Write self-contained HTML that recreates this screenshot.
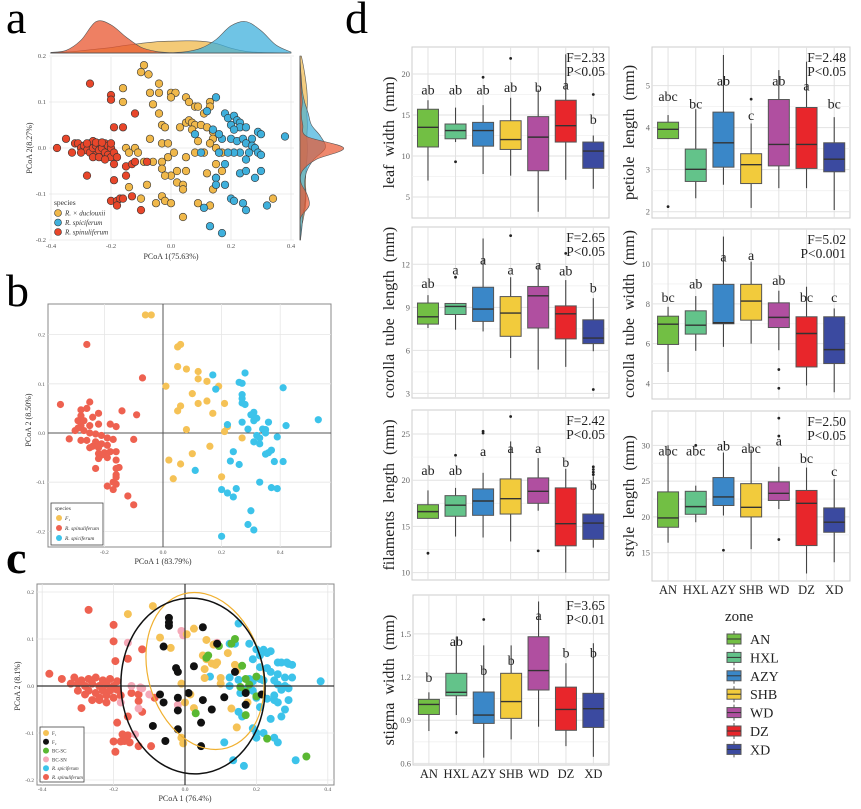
<!DOCTYPE html>
<html><head><meta charset="utf-8"><style>
html,body{margin:0;padding:0;background:#fff;width:861px;height:809px;overflow:hidden}
svg{position:absolute;left:0;top:0;font-family:"Liberation Serif",serif}
</style></head><body>
<svg id="fig" width="861" height="809" viewBox="0 0 861 809" xmlns="http://www.w3.org/2000/svg"></svg>
<script>
// ---------- DATA ----------
// Panel a
const aDuclouxii=[[-0.09,0.18],[-0.1,0.165],[-0.075,0.16],[-0.04,0.14],[-0.16,0.13],[-0.16,0.10],[-0.07,0.12],[-0.04,0.12],[0,0.12],[0.015,0.12],[0,0.11],[-0.06,0.095],[-0.04,0.075],[0.05,0.11],[0.06,0.1],[0.08,0.09],[0.09,0.09],[0.13,0.1],[0.13,0.09],[0.11,0.075],[-0.03,0.05],[-0.02,0.045],[0.03,0.045],[0.05,0.055],[0.06,0.06],[0.07,0.055],[0.08,0.05],[0.1,0.05],[0.12,0.045],[0.14,0.035],[0.07,0.04],[0.14,0.02],[0.13,0.01],[0.09,0.015],[0.15,0.0],[0.16,-0.01],[0.17,-0.01],[-0.07,0.02],[-0.03,0.01],[-0.01,0.01],[-0.15,0.0],[-0.14,-0.01],[-0.12,0.0],[-0.11,-0.01],[-0.09,-0.03],[-0.06,-0.03],[-0.03,-0.03],[-0.01,-0.02],[0.01,-0.01],[0.05,-0.02],[0.08,-0.01],[0.11,-0.01],[-0.03,-0.045],[0.05,-0.05],[0.0,-0.06],[0.15,-0.035],[0.12,-0.055],[0.15,-0.065],[0.02,-0.075],[0.04,-0.08],[0.04,-0.09],[-0.14,-0.085],[-0.08,-0.08],[0.14,-0.09],[-0.1,-0.11],[-0.03,-0.105],[-0.02,-0.115],[0.0,-0.12],[-0.05,-0.12],[0.04,-0.15],[0.09,-0.12],[0.13,-0.125],[0.34,-0.11],[0.17,-0.05],[-0.02,-0.06],[0.02,-0.05]];
const aSpiciferum=[[0.15,0.11],[0.12,0.08],[0.18,0.075],[0.19,0.065],[0.21,0.07],[0.22,0.06],[0.23,0.055],[0.2,0.05],[0.23,0.045],[0.25,0.045],[0.21,0.04],[0.29,0.035],[0.3,0.03],[0.38,0.025],[0.14,0.04],[0.08,0.03],[0.17,0.02],[0.2,0.02],[0.22,0.015],[0.24,0.02],[0.27,0.02],[0.25,0.01],[0.27,0.005],[0.28,0.0],[0.26,-0.01],[0.29,-0.01],[0.3,-0.015],[0.23,-0.01],[0.21,-0.01],[0.19,-0.01],[0.16,-0.01],[0.1,-0.01],[0.25,-0.025],[0.18,-0.035],[0.23,-0.055],[0.25,-0.05],[0.28,-0.065],[0.3,-0.05],[0.15,-0.065],[0.15,-0.08],[0.18,-0.08],[0.2,-0.11],[0.21,-0.115],[0.24,-0.12],[0.25,-0.135],[0.32,-0.125],[0.11,-0.13],[0.13,-0.17],[0.17,-0.185],[0.16,0.03]];
const aSpinuliferum=[[-0.27,0.14],[-0.2,0.115],[-0.2,0.105],[-0.12,0.075],[-0.16,0.045],[-0.19,0.045],[-0.38,0.0],[-0.35,0.02],[-0.32,0.01],[-0.31,0.01],[-0.3,0.0],[-0.29,0.005],[-0.28,-0.005],[-0.27,0.01],[-0.27,-0.01],[-0.26,0.0],[-0.26,0.015],[-0.25,0.005],[-0.25,-0.015],[-0.24,0.01],[-0.24,-0.005],[-0.23,0.0],[-0.23,-0.02],[-0.22,0.01],[-0.22,-0.01],[-0.21,0.005],[-0.21,-0.015],[-0.2,0.0],[-0.2,-0.02],[-0.19,-0.01],[-0.18,-0.02],[-0.28,0.01],[-0.26,-0.02],[-0.24,-0.02],[-0.22,-0.025],[-0.2,0.01],[-0.3,-0.01],[-0.33,-0.01],[-0.25,0.012],[-0.23,0.012],[-0.19,-0.035],[-0.15,-0.04],[-0.13,-0.035],[-0.12,-0.03],[-0.08,-0.03],[-0.28,-0.06],[-0.15,-0.06],[-0.19,-0.07],[-0.2,-0.115],[-0.18,-0.115],[-0.17,-0.11],[-0.16,-0.11],[-0.13,-0.105],[-0.1,-0.135],[-0.18,-0.125]];
const densX=[-0.4,-0.35,-0.3,-0.25,-0.2,-0.15,-0.1,-0.05,0,0.05,0.1,0.15,0.2,0.25,0.3,0.35,0.4];
const densTopRed=[0.02,0.08,0.4,0.98,0.88,0.5,0.18,0.05,0.01,0,0,0,0,0,0,0,0];
const densTopYellow=[0.01,0.03,0.07,0.12,0.17,0.24,0.3,0.35,0.37,0.38,0.37,0.3,0.15,0.05,0.02,0.01,0];
const densTopBlue=[0,0,0,0,0,0,0,0,0.01,0.04,0.15,0.42,0.85,0.98,0.7,0.25,0.03];
const densY=[-0.2,-0.175,-0.15,-0.125,-0.1,-0.075,-0.05,-0.025,0,0.025,0.05,0.075,0.1,0.125,0.15,0.175,0.2];
const densRightRed=[0,0.01,0.02,0.2,0.15,0.02,0.05,0.35,0.95,0.15,0.06,0.03,0.05,0.03,0.02,0.01,0];
const densRightBlue=[0.01,0.04,0.06,0.1,0.12,0.1,0.15,0.3,0.55,0.45,0.25,0.18,0.1,0.05,0.03,0.01,0];
const densRightYellow=[0.01,0.03,0.08,0.12,0.13,0.12,0.13,0.15,0.16,0.15,0.16,0.15,0.16,0.15,0.12,0.08,0.03];
// Panel b
const bF1=[[-0.06,0.24],[-0.04,0.24],[0.06,0.18],[0.05,0.175],[0.05,0.135],[0.08,0.13],[0.12,0.125],[0.12,0.11],[0.15,0.105],[0.01,0.095],[0.19,0.095],[0.1,0.08],[0.12,0.06],[0.15,0.065],[0.21,0.06],[0.06,0.055],[0.05,0.045],[0.17,0.04],[0.08,0.007],[0.22,0.013],[0.21,0.003],[0.27,-0.01],[0.16,-0.027],[0.1,-0.042],[0.02,-0.055],[0.06,-0.063],[0.035,-0.093],[0.2,-0.089]];
const bSpinuliferum=[[-0.35,0.058],[-0.26,0.18],[-0.07,0.112],[-0.14,0.045],[-0.09,0.037],[-0.25,0.063],[-0.26,0.05],[-0.28,0.047],[-0.22,0.04],[-0.24,0.032],[-0.28,0.035],[-0.29,0.025],[-0.27,0.025],[-0.28,0.015],[-0.25,0.015],[-0.22,0.018],[-0.18,0.018],[-0.16,0.013],[-0.29,0.01],[-0.27,0.005],[-0.3,0.005],[-0.25,0.0],[-0.23,-0.002],[-0.21,-0.005],[-0.19,-0.01],[-0.32,-0.012],[-0.28,-0.015],[-0.26,-0.015],[-0.23,-0.018],[-0.21,-0.022],[-0.24,-0.027],[-0.22,-0.03],[-0.19,-0.025],[-0.17,-0.013],[-0.1,-0.013],[-0.25,-0.03],[-0.22,-0.042],[-0.2,-0.04],[-0.18,-0.038],[-0.19,-0.05],[-0.21,-0.045],[-0.22,-0.052],[-0.16,-0.038],[-0.16,-0.055],[-0.23,-0.072],[-0.16,-0.072],[-0.15,-0.07],[-0.16,-0.085],[-0.16,-0.09],[-0.17,-0.1],[-0.16,-0.104],[-0.19,-0.108],[-0.17,-0.115],[-0.12,-0.128],[-0.1,-0.146]];
const bSpiciferum=[[0.17,0.118],[0.28,0.122],[0.26,0.103],[0.27,0.101],[0.18,0.089],[0.41,0.092],[0.27,0.078],[0.27,0.07],[0.27,0.061],[0.28,0.058],[0.31,0.042],[0.31,0.033],[0.3,0.037],[0.32,0.03],[0.31,0.025],[0.27,0.022],[0.36,0.022],[0.22,0.017],[0.42,0.015],[0.53,0.027],[0.29,0.008],[0.34,0.008],[0.35,0.007],[0.35,0.0],[0.32,-0.005],[0.33,-0.01],[0.39,-0.008],[0.31,-0.018],[0.33,-0.022],[0.36,-0.04],[0.37,-0.035],[0.35,-0.043],[0.24,-0.038],[0.23,-0.057],[0.26,-0.064],[0.38,-0.058],[0.41,-0.058],[0.11,-0.076],[0.33,-0.1],[0.2,-0.115],[0.22,-0.122],[0.24,-0.13],[0.25,-0.113],[0.37,-0.111],[0.39,-0.113],[0.3,-0.158],[0.29,-0.186],[0.31,-0.197],[0.2,-0.21]];
// Panel c
const cSpinuliferum=[[-0.27,0.162],[-0.2,0.13],[-0.2,0.095],[-0.12,0.078],[-0.16,0.058],[-0.195,0.053],[-0.38,0.026],[-0.345,0.015],[-0.31,0.018],[-0.3,0.005],[-0.29,0.012],[-0.28,0.0],[-0.27,0.015],[-0.27,-0.01],[-0.26,0.005],[-0.25,0.018],[-0.25,-0.015],[-0.24,0.0],[-0.24,-0.025],[-0.23,0.012],[-0.23,-0.01],[-0.22,0.003],[-0.22,-0.02],[-0.21,0.015],[-0.21,-0.01],[-0.2,0.0],[-0.2,-0.025],[-0.19,-0.008],[-0.19,0.01],[-0.18,-0.02],[-0.28,-0.018],[-0.26,-0.03],[-0.24,-0.03],[-0.22,-0.035],[-0.3,-0.01],[-0.32,0.005],[-0.15,-0.015],[-0.13,-0.018],[-0.13,-0.032],[-0.12,-0.055],[-0.085,-0.025],[-0.29,-0.047],[-0.16,-0.065],[-0.19,-0.078],[-0.2,-0.118],[-0.18,-0.118],[-0.17,-0.117],[-0.16,-0.105],[-0.155,-0.12],[-0.13,-0.128],[-0.095,-0.128],[-0.195,-0.14],[-0.175,-0.103]];
const cSpiciferum=[[0.15,0.133],[0.125,0.09],[0.14,0.09],[0.18,0.09],[0.2,0.078],[0.22,0.077],[0.23,0.07],[0.24,0.074],[0.21,0.065],[0.19,0.057],[0.26,0.05],[0.27,0.05],[0.29,0.047],[0.21,0.04],[0.23,0.038],[0.24,0.03],[0.26,0.025],[0.28,0.018],[0.3,0.018],[0.25,0.012],[0.26,0.003],[0.28,0.0],[0.29,-0.005],[0.27,-0.008],[0.22,0.012],[0.21,0.015],[0.19,0.01],[0.18,0.015],[0.175,-0.005],[0.15,0.013],[0.125,0.018],[0.125,0.0],[0.07,0.02],[0.155,-0.015],[0.17,-0.04],[0.19,-0.01],[0.2,-0.025],[0.23,-0.027],[0.25,-0.02],[0.25,-0.03],[0.26,-0.035],[0.21,-0.045],[0.15,-0.055],[0.16,-0.065],[0.27,-0.065],[0.28,-0.05],[0.29,-0.03],[0.24,-0.07],[0.19,-0.09],[0.2,-0.1],[0.22,-0.1],[0.2,-0.11],[0.25,-0.11],[0.26,-0.12],[0.11,-0.12],[0.135,-0.158],[0.165,-0.17],[0.31,-0.158],[0.38,0.01],[0.285,0.05],[0.3,0.045]];
const cBCSN=[[-0.01,0.117],[-0.005,0.108],[0.085,0.09],[-0.16,0.092],[-0.15,0.0],[-0.125,-0.003],[-0.12,-0.005],[-0.1,-0.018],[-0.18,-0.035],[-0.13,-0.048],[-0.14,-0.103],[-0.02,-0.04],[0.09,0.092]];
const cF1=[[-0.16,0.153],[-0.09,0.17],[-0.07,0.103],[-0.04,0.081],[0.005,0.11],[0.025,0.122],[0.06,0.098],[0.08,0.088],[0.12,0.07],[0.05,0.065],[0.06,0.057],[0.075,0.048],[0.085,0.045],[0.09,0.05],[0.145,0.033],[0.055,0.036],[0.055,0.017],[0.1,0.017],[0.1,0.005],[-0.01,0.005],[0.015,-0.018],[0.0,-0.035],[0.025,-0.047],[0.13,-0.048],[0.145,-0.088],[0.175,-0.035],[-0.01,-0.11],[-0.005,-0.122],[0.14,0.045]];
const cBCSC=[[0.14,0.1],[0.13,0.09],[0.095,0.085],[0.06,0.06],[0.065,0.065],[0.16,0.043],[0.17,0.015],[0.155,-0.002],[0.18,0.003],[0.17,-0.012],[0.2,-0.022],[0.03,-0.058],[0.17,-0.062],[0.23,-0.112],[0.34,-0.15],[0.2,0.02]];
const cF2=[[-0.045,0.145],[-0.045,0.135],[-0.045,0.128],[0.05,0.125],[-0.06,0.084],[-0.025,0.038],[-0.02,0.03],[0.025,0.042],[0.09,0.09],[0.14,0.03],[-0.07,-0.018],[-0.06,-0.035],[-0.02,-0.025],[0.01,-0.015],[0.05,-0.03],[0.11,-0.024],[0.17,-0.015],[0.215,-0.018],[-0.02,-0.052],[0.075,-0.05],[0.045,-0.078],[-0.09,-0.085],[-0.02,-0.092],[-0.055,-0.117],[0.045,-0.128],[0.17,-0.04]];
// Panel d  (per zone: [min, q1, median, q3, max])
const zones=["AN","HXL","AZY","SHB","WD","DZ","XD"];
const leafWidthBoxes=[[7.0,11.1,13.5,15.7,16.8],[11.7,12.1,13.1,13.9,15.9],[7.8,11.2,13.1,14.1,16.2],[7.6,10.8,12.0,14.3,17.1],[3.2,8.2,12.3,14.8,18.1],[7.1,11.7,13.7,16.8,22.4],[6.0,8.5,10.6,11.7,12.5]];
const leafWidthOutliers=[[],[9.3],[19.6],[21.9],[],[],[17.5]];
const leafWidthLetters=["ab","ab","ab","ab","b","a","b"];
const leafWidthLetterY=[18.1,18.1,18.1,18.4,18.4,18.7,14.5];
const petioleBoxes=[[3.74,3.74,3.96,4.13,4.30],[2.32,2.72,3.01,3.49,4.44],[2.64,3.06,3.64,4.37,5.73],[2.09,2.67,3.12,3.38,4.10],[2.56,3.09,3.60,4.67,5.37],[2.56,3.03,3.60,4.48,5.57],[2.04,2.95,3.25,3.64,4.25]];
const petioleOutliers=[[2.12],[],[],[4.68],[],[],[]];
const petioleLetters=["abc","bc","ab","c","ab","a","bc"];
const petioleLetterY=[4.75,4.58,5.12,4.3,5.12,5.0,4.58];
const corollaLenBoxes=[[7.56,7.83,8.34,9.3,9.85],[7.44,8.5,9.06,9.27,9.3],[7.32,8.02,8.88,10.4,13.8],[5.47,6.98,8.6,9.75,11.1],[4.66,7.56,9.8,10.45,11.95],[4.85,6.8,8.55,9.1,10.9],[5.94,6.47,6.86,8.13,9.64]];
const corollaLenOutliers=[[],[11.1],[],[14.0],[],[12.76],[3.27]];
const corollaLenLetters=["ab","a","a","a","a","ab","b"];
const corollaLenLetterY=[10.7,11.65,12.35,11.65,12.0,11.56,10.4];
const corollaWidBoxes=[[4.58,5.96,6.98,7.38,7.85],[5.64,6.48,6.93,7.65,8.39],[5.84,7.0,7.05,8.98,11.38],[6.0,7.18,8.14,8.98,10.12],[5.67,6.81,7.32,8.05,8.66],[3.9,4.83,6.51,7.35,8.86],[3.56,5.0,5.7,7.35,7.77]];
const corollaWidOutliers=[[],[],[],[],[4.7,3.76],[],[]];
const corollaWidLetters=["bc","ab","a","a","ab","bc","c"];
const corollaWidLetterY=[8.35,9.03,10.37,10.45,9.2,8.35,8.35];
const filamentBoxes=[[15.87,15.87,16.6,17.35,18.9],[13.9,16.1,17.3,18.33,19.17],[13.8,16.2,17.75,19.06,20.8],[13.37,16.34,18.0,20.14,24.2],[16.7,17.5,18.8,20.25,22.4],[10.0,12.9,15.29,19.17,21.23],[12.7,13.6,15.36,16.34,20.43]];
const filamentOutliers=[[12.1],[22.7],[25.3,25.1],[26.9],[12.35],[],[21.45,21.16,20.87,20.6]];
const filamentLetters=["ab","ab","a","a","a","b","b"];
const filamentLetterY=[21.1,21.1,23.15,23.5,23.5,21.96,19.5];
const styleBoxes=[[16.4,18.56,19.86,23.5,30.0],[19.26,20.37,21.44,23.58,24.37],[20.2,21.6,22.8,25.5,29.0],[15.5,20.0,21.35,24.65,29.4],[21.1,22.3,23.3,24.9,27.0],[12.1,16.0,21.9,23.7,26.9],[13.67,17.86,19.26,21.26,25.3]];
const styleOutliers=[[],[30.0],[15.35],[],[16.84,31.3,33.8],[],[]];
const styleLetters=["abc","abc","ab","abc","a","bc","c"];
const styleLetterY=[29.3,29.3,30.0,29.6,30.65,28.2,26.4];
const stigmaBoxes=[[0.825,0.94,1.01,1.045,1.094],[0.936,1.07,1.094,1.226,1.48],[0.64,0.878,0.936,1.096,1.42],[0.767,0.913,1.03,1.226,1.42],[0.855,1.11,1.245,1.48,1.725],[0.72,0.83,0.975,1.13,1.296],[0.646,0.85,0.98,1.087,1.435]];
const stigmaOutliers=[[],[0.815],[1.6],[],[],[],[]];
const stigmaLetters=["b","ab","b","b","a","b","b"];
const stigmaLetterY=[1.2,1.45,1.25,1.32,1.63,1.37,1.37];
const leafTicks=[5,10,15,20], petioleTicks=[2,3,4,5], corollaLenTicks=[3,6,9,12], corollaWidTicks=[4,6,8,10], filamentTicks=[10,15,20,25], styleTicks=[15,20,25,30], stigmaTicks=[0.6,0.9,1.2,1.5];

// ---------- HELPERS ----------
const NS="http://www.w3.org/2000/svg";
const svg=document.getElementById('fig');
function mk(tag,attrs,parent){const e=document.createElementNS(NS,tag);for(const k in attrs)e.setAttribute(k,attrs[k]);(parent||svg).appendChild(e);return e;}
function txt(x,y,s,size,extra,parent){const e=mk('text',Object.assign({x:x,y:y,'font-size':size},extra||{}),parent);e.textContent=s;return e;}
function smooth(pts){let d='';for(let i=0;i<pts.length-1;i++){const p0=pts[Math.max(0,i-1)],p1=pts[i],p2=pts[i+1],p3=pts[Math.min(pts.length-1,i+2)];
 const c1=[p1[0]+(p2[0]-p0[0])/6,p1[1]+(p2[1]-p0[1])/6],c2=[p2[0]-(p3[0]-p1[0])/6,p2[1]-(p3[1]-p1[1])/6];
 d+=' C'+c1[0]+','+c1[1]+' '+c2[0]+','+c2[1]+' '+p2[0]+','+p2[1];}return d;}

let L;
L=txt(6,33,'a',46,{});
L=txt(6,306,'b',46,{});
L=txt(6,573,'c',46,{'font-weight':'bold'});
L=txt(345,33,'d',46,{});

// ---------- PANEL A ----------
const ax=v=>171+300*v, ay=v=>148-460*v;
[-0.4,-0.2,0,0.2,0.4].forEach(t=>{const g=mk('line',{x1:ax(t),x2:ax(t),y1:57,y2:240,stroke:'#e6e6e6','stroke-width':0.8});
 const l=txt(ax(t),248,t.toFixed(1),6.5,{'text-anchor':'middle',fill:'#555'});});
[-0.2,-0.1,0,0.1,0.2].forEach(t=>{const g=mk('line',{x1:49,x2:294,y1:ay(t),y2:ay(t),stroke:'#e6e6e6','stroke-width':0.8});
 const l=txt(46,ay(t)+2,t.toFixed(1),6.5,{'text-anchor':'end',fill:'#555'});});
L=txt(171,259,'PCoA 1(75.63%)',8,{'text-anchor':'middle',fill:'#333'});
L=txt(0,0,'PCoA 2(8.27%)',8,{'text-anchor':'middle',fill:'#333',transform:'translate(32,148) rotate(-90)'});
function densTop(vals,fill,name){const pts=densX.map((x,i)=>[ax(x),53-32*vals[i]]);let d='M'+ax(densX[0])+',53 L'+pts[0][0]+','+pts[0][1]+smooth(pts)+' L'+ax(densX[densX.length-1])+',53 Z';
 const p=mk('path',{d:d,fill:fill,'fill-opacity':0.75,stroke:'#555','stroke-width':0.6,'stroke-linejoin':'round'});}
densTop(densTopYellow,'#f0b84a','top-density-duclouxii');densTop(densTopRed,'#e8552f','top-density-spinuliferum');densTop(densTopBlue,'#3fb0dc','top-density-spiciferum');
L=mk('line',{x1:50,x2:288,y1:53,y2:53,stroke:'#555','stroke-width':0.6});
function densRight(vals,fill,name){const pts=densY.map((y,i)=>[300+46*vals[i],ay(y)]);let d='M300,'+ay(densY[0])+' L'+pts[0][0]+','+pts[0][1]+smooth(pts)+' L300,'+ay(densY[densY.length-1])+' Z';
 const p=mk('path',{d:d,fill:fill,'fill-opacity':0.7,stroke:'#555','stroke-width':0.6,'stroke-linejoin':'round'});}
densRight(densRightYellow,'#f0b84a','right-density-duclouxii');densRight(densRightBlue,'#3fb0dc','right-density-spiciferum');densRight(densRightRed,'#e8552f','right-density-spinuliferum');
function ptsA(arr,fill,name){arr.forEach(p=>{const c=mk('circle',{cx:ax(p[0]),cy:ay(p[1]),r:3.8,fill:fill,stroke:'#333','stroke-width':0.6});});}
ptsA(aDuclouxii,'#f0b84a','point-duclouxii');ptsA(aSpiciferum,'#3fb0dc','point-spiciferum');ptsA(aSpinuliferum,'#e8462a','point-spinuliferum');
L=txt(54,205,'species',7.5,{fill:'#333'});
[['#f0b84a','R. × duclouxii'],['#3fb0dc','R. spiciferum'],['#e8462a','R. spinuliferum']].forEach((e,i)=>{const y=213+9.5*i;
 const c=mk('circle',{cx:58,cy:y,r:3.5,fill:e[0],stroke:'#333','stroke-width':0.6});
 const t=txt(65,y+2.5,e[1],7,{'font-style':'italic',fill:'#333'});});

// ---------- PANEL B ----------
const bx=v=>163+293*v, by=v=>433-492*v;
L=mk('rect',{x:48,y:304,width:283,height:243,fill:'#fff',stroke:'#888','stroke-width':1});
[-0.2,0.2,0.4].forEach(t=>{const g=mk('line',{x1:bx(t),x2:bx(t),y1:304,y2:547,stroke:'#e6e6e6','stroke-width':0.8});});
[-0.2,-0.1,0.1,0.2].forEach(t=>{const g=mk('line',{x1:48,x2:331,y1:by(t),y2:by(t),stroke:'#e6e6e6','stroke-width':0.8});});
[-0.2,0,0.2,0.4].forEach(t=>{const l=txt(bx(t),554,t.toFixed(1),5.5,{'text-anchor':'middle',fill:'#555'});});
[-0.2,-0.1,0,0.1,0.2].forEach(t=>{const l=txt(45,by(t)+2,t.toFixed(1),5.5,{'text-anchor':'end',fill:'#555'});});
L=mk('line',{x1:bx(0),x2:bx(0),y1:304,y2:547,stroke:'#555','stroke-width':1});
L=mk('line',{x1:48,x2:331,y1:by(0),y2:by(0),stroke:'#555','stroke-width':1});
function ptsB(arr,fill,name,r){arr.forEach(p=>{const c=mk('circle',{cx:bx(p[0]),cy:by(p[1]),r:r,fill:fill});});}
ptsB(bF1,'#f5c256','point-f1',3.6);ptsB(bSpinuliferum,'#ee6150','point-spinuliferum',3.6);ptsB(bSpiciferum,'#3cc3ea','point-spiciferum',3.6);
L=txt(163,564,'PCoA 1 (83.79%)',8,{'text-anchor':'middle',fill:'#333'});
L=txt(0,0,'PCoA 2 (8.50%)',8,{'text-anchor':'middle',fill:'#333',transform:'translate(31,420) rotate(-90)'});
L=mk('rect',{x:51,y:503,width:52,height:42,fill:'#fff',stroke:'#444','stroke-width':0.8});
L=txt(55,510,'species',5.5,{fill:'#333'});
[['#f5c256','F₁'],['#ee6150','R. spinuliferum'],['#3cc3ea','R. spiciferum']].forEach((e,i)=>{const y=518+10*i;
 const c=mk('circle',{cx:59,cy:y,r:3,fill:e[0]});
 const t=txt(65,y+2,e[1],5.5,{'font-style':'italic',fill:'#333'});});

// ---------- PANEL C ----------
const cx_=v=>185+357*v, cy_=v=>686-470*v;
L=mk('rect',{x:37,y:584,width:297,height:201,fill:'#fff',stroke:'#888','stroke-width':1});
[-0.4,-0.2,0.2,0.4].forEach(t=>{const g=mk('line',{x1:cx_(t),x2:cx_(t),y1:584,y2:785,stroke:'#e6e6e6','stroke-width':0.8});});
[-0.2,-0.1,0.1,0.2].forEach(t=>{const g=mk('line',{x1:37,x2:334,y1:cy_(t),y2:cy_(t),stroke:'#e6e6e6','stroke-width':0.8});});
[-0.4,-0.2,0,0.2,0.4].forEach(t=>{const l=txt(cx_(t),791,t.toFixed(1),5.5,{'text-anchor':'middle',fill:'#555'});});
[-0.2,-0.1,0,0.1,0.2].forEach(t=>{const l=txt(34,cy_(t)+2,t.toFixed(1),5.5,{'text-anchor':'end',fill:'#555'});});
function ptsC(arr,fill,name){arr.forEach(p=>{const c=mk('circle',{cx:cx_(p[0]),cy:cy_(p[1]),r:4,fill:fill});});}
ptsC(cSpinuliferum,'#ee6150','point-spinuliferum');ptsC(cSpiciferum,'#3cc3ea','point-spiciferum');ptsC(cBCSN,'#f5a9b8','point-bc-sn');ptsC(cF1,'#f5c256','point-f1');ptsC(cBCSC,'#5ab832','point-bc-sc');ptsC(cF2,'#111','point-f2');
L=mk('line',{x1:cx_(0),x2:cx_(0),y1:584,y2:785,stroke:'#333','stroke-width':1.2});
L=mk('line',{x1:37,x2:334,y1:cy_(0),y2:cy_(0),stroke:'#333','stroke-width':1.2});
L=mk('ellipse',{cx:205,cy:671,rx:57,ry:80,fill:'none',stroke:'#f0b030','stroke-width':1.2,transform:'rotate(-16 205 671)'});
L=mk('ellipse',{cx:193,cy:686,rx:72,ry:88,fill:'none',stroke:'#111','stroke-width':1.5,transform:'rotate(-4 193 686)'});
L=txt(185,801,'PCoA 1 (76.4%)',8,{'text-anchor':'middle',fill:'#333'});
L=txt(0,0,'PCoA 2 (8.1%)',8,{'text-anchor':'middle',fill:'#333',transform:'translate(20,686) rotate(-90)'});
L=mk('rect',{x:40,y:727,width:44,height:55,fill:'#fff',stroke:'#444','stroke-width':0.8});
[['#f5c256','F₁',0],['#111','F₂',0],['#5ab832','BC-SC',0],['#f5a9b8','BC-SN',0],['#3cc3ea','R. spiciferum',1],['#ee6150','R. spinuliferum',1]].forEach((e,i)=>{const y=733+8.8*i;
 const c=mk('circle',{cx:46,cy:y,r:3,fill:e[0]});
 const t=txt(52,y+2,e[1],5,{'font-style':e[2]?'italic':'normal',fill:'#333'});});

// ---------- PANEL D ----------
const zoneColors=['#72bf44','#63c38a','#3a87c8','#f2cb3c','#b04fa0','#e8262b','#3b4aa0'];
function boxPanel(o){
 const {x0,x1,y0,y1,vmin,vmax}=o;
 const yv=v=>y1-(v-vmin)/(vmax-vmin)*(y1-y0);
 const step=(x1-x0)/7.15, cxz=i=>x0+step*0.58+step*i;
 const fr=mk('rect',{x:x0,y:y0,width:x1-x0,height:y1-y0,fill:'#fff',stroke:'#ccc','stroke-width':1});
 for(let k=0;k<o.ticks.length;k++){const t=o.ticks[k];
  if(k<o.ticks.length-1){const mid=(t+o.ticks[k+1])/2;const g=mk('line',{x1:x0,x2:x1,y1:yv(mid),y2:yv(mid),stroke:'#f0f0f0','stroke-width':0.8});}
  const g=mk('line',{x1:x0,x2:x1,y1:yv(t),y2:yv(t),stroke:'#e2e2e2','stroke-width':1});
  const l=txt(x0-2,yv(t)+3,String(t),8.5,{'text-anchor':'end',fill:'#666'});}
 zones.forEach((z,i)=>{const g=mk('line',{x1:cxz(i),x2:cxz(i),y1:y0,y2:y1,stroke:'#e2e2e2','stroke-width':1});});
 const bw=21;
 o.boxes.forEach((b,i)=>{const c=cxz(i);
  const w=mk('line',{x1:c,x2:c,y1:yv(b[0]),y2:yv(b[4]),stroke:'#444','stroke-width':1.1});
  const r=mk('rect',{x:c-bw/2,y:yv(b[3]),width:bw,height:Math.max(0.5,yv(b[1])-yv(b[3])),fill:zoneColors[i],stroke:'#555','stroke-width':1});
  const m=mk('line',{x1:c-bw/2,x2:c+bw/2,y1:yv(b[2]),y2:yv(b[2]),stroke:'#333','stroke-width':1.4});
  o.outliers[i].forEach(v=>{const p=mk('circle',{cx:c,cy:yv(v),r:1.4,fill:'#222'});});
  const t=txt(c,yv(o.letterY[i])+5,o.letters[i],14,{'text-anchor':'middle',fill:'#222'});
 });
 const f=txt(x1-4,y0+15,o.f,13.5,{'text-anchor':'end',fill:'#222'});
 const p=txt(x1-4,y0+29,o.p,13.5,{'text-anchor':'end',fill:'#222'});
 const ti=txt(0,0,o.title,16,{'text-anchor':'middle',fill:'#222','word-spacing':'4px',transform:'translate('+(o.tx)+','+((y0+y1)/2)+') rotate(-90)'});
 if(o.xlabels){zones.forEach((z,i)=>{const l=txt(cxz(i),y1+13,z,12.5,{'text-anchor':'middle',fill:'#222'});});}
}
boxPanel({name:'leaf-width',x0:412,x1:609,y0:47,y1:218,vmin:2.44,vmax:23.29,ticks:leafTicks,boxes:leafWidthBoxes,outliers:leafWidthOutliers,letters:leafWidthLetters,letterY:leafWidthLetterY,f:'F=2.33',p:'P<0.05',title:'leaf width (mm)',tx:394});
boxPanel({name:'petiole-length',x0:652,x1:850,y0:47,y1:218,vmin:1.85,vmax:5.92,ticks:petioleTicks,boxes:petioleBoxes,outliers:petioleOutliers,letters:petioleLetters,letterY:petioleLetterY,f:'F=2.48',p:'P<0.05',title:'petiole length (mm)',tx:634});
boxPanel({name:'corolla-tube-length',x0:412,x1:609,y0:227,y1:398,vmin:2.68,vmax:14.6,ticks:corollaLenTicks,boxes:corollaLenBoxes,outliers:corollaLenOutliers,letters:corollaLenLetters,letterY:corollaLenLetterY,f:'F=2.65',p:'P<0.05',title:'corolla tube length (mm)',tx:394});
boxPanel({name:'corolla-tube-width',x0:652,x1:850,y0:229,y1:399,vmin:3.22,vmax:11.76,ticks:corollaWidTicks,boxes:corollaWidBoxes,outliers:corollaWidOutliers,letters:corollaWidLetters,letterY:corollaWidLetterY,f:'F=5.02',p:'P<0.001',title:'corolla tube width (mm)',tx:634});
boxPanel({name:'filaments-length',x0:412,x1:609,y0:410,y1:580,vmin:9.2,vmax:27.6,ticks:filamentTicks,boxes:filamentBoxes,outliers:filamentOutliers,letters:filamentLetters,letterY:filamentLetterY,f:'F=2.42',p:'P<0.05',title:'filaments length (mm)',tx:394});
boxPanel({name:'style-length',x0:652,x1:850,y0:411,y1:581,vmin:11.05,vmax:34.8,ticks:styleTicks,boxes:styleBoxes,outliers:styleOutliers,letters:styleLetters,letterY:styleLetterY,f:'F=2.50',p:'P<0.05',title:'style length (mm)',tx:634,xlabels:true});
boxPanel({name:'stigma-width',x0:413,x1:609,y0:595,y1:765,vmin:0.589,vmax:1.77,ticks:stigmaTicks,boxes:stigmaBoxes,outliers:stigmaOutliers,letters:stigmaLetters,letterY:stigmaLetterY,f:'F=3.65',p:'P<0.01',title:'stigma width (mm)',tx:394,xlabels:true});

L=txt(725,621,'zone',15,{fill:'#222'});
zones.forEach((z,i)=>{const y=639+18.4*i;
 const w=mk('line',{x1:734,x2:734,y1:y-8,y2:y+8,stroke:'#555','stroke-width':1});
 const r=mk('rect',{x:727,y:y-5,width:14,height:10,fill:zoneColors[i],stroke:'#555','stroke-width':1});
 const m=mk('line',{x1:727,x2:741,y1:y,y2:y,stroke:'#333','stroke-width':1});
 const t=txt(750,y+5,z,14,{fill:'#222'});});
</script>
</body></html>
